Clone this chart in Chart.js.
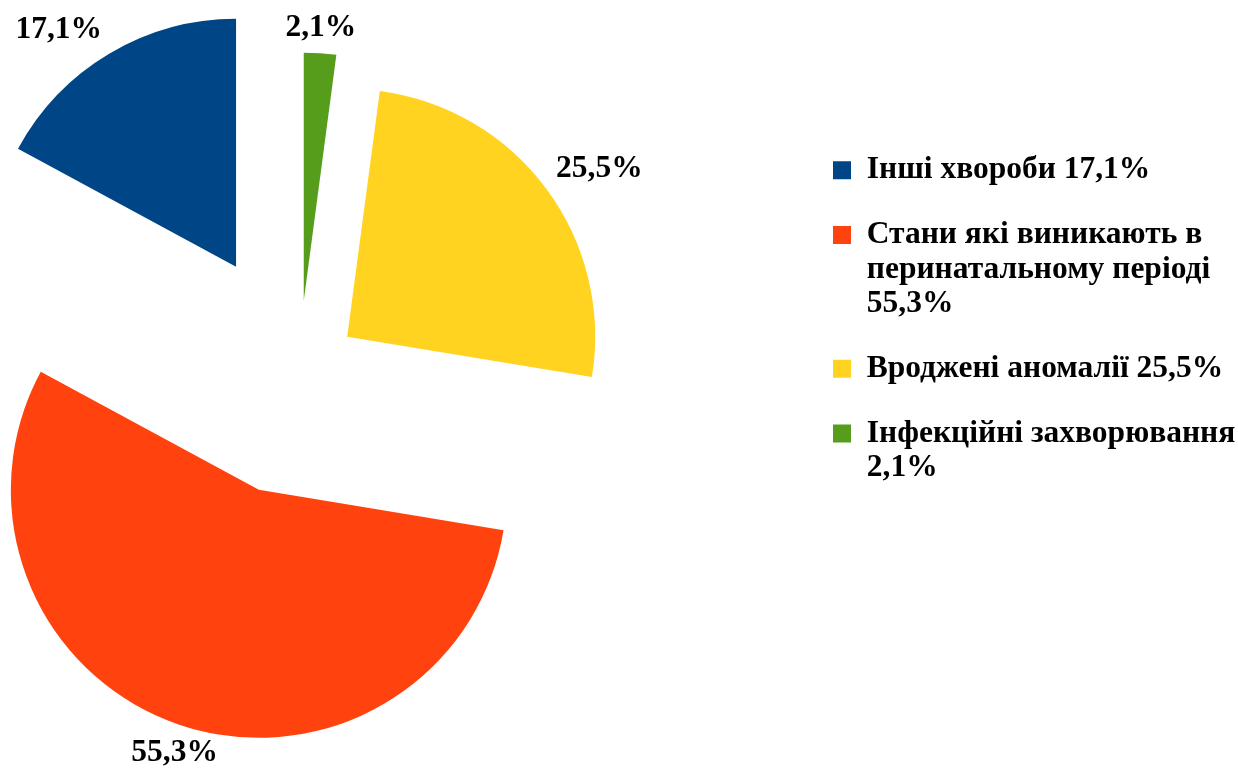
<!DOCTYPE html>
<html><head><meta charset="utf-8">
<script src="https://cdn.jsdelivr.net/npm/chart.js@4.4.1/dist/chart.umd.min.js"></script>
<style>html,body{margin:0;padding:0;background:#fff}canvas{display:block}</style>
</head><body>
<canvas id="c" width="1238" height="770"></canvas>
<script>
// Categories in legend order
const categories = ['Інші хвороби', 'Стани які виникають в перинатальному періоді', 'Вроджені аномалії', 'Інфекційні захворювання'];
const shares = [17.1, 55.3, 25.5, 2.1];
const colors = ['#004586', '#ff420e', '#ffd320', '#579d1c'];
// style: how far each slice is pulled out (px)
const explode = [123, 124, 60, 72];

// The original runs counter-clockwise; Chart.js draws clockwise, so reverse the draw order
const drawLabels = categories.slice().reverse();
const drawValues = shares.slice().reverse();
const drawColors = colors.slice().reverse();
const drawExplode = explode.slice().reverse();

const FONT = '"Liberation Serif", "Times New Roman", serif';
const LEGEND_SIZE = 31.5;
const LABEL_SIZE = 31.5;
const fmt = v => v.toFixed(1).replace('.', ',') + '%';

function wrap(ctx, text, maxW) {
  const words = text.split(' ');
  const lines = [];
  let cur = '';
  words.forEach(w => {
    const t = cur ? cur + ' ' + w : w;
    if (cur && ctx.measureText(t).width > maxW) { lines.push(cur); cur = w; }
    else cur = t;
  });
  if (cur) lines.push(cur);
  return lines;
}

const explodePlugin = {
  id: 'explode',
  afterDatasetsUpdate(chart) {
    const meta = chart.getDatasetMeta(0);
    const area = chart.chartArea;
    meta.data.forEach((arc, i) => {
      const mid = (arc.startAngle + arc.endAngle) / 2;
      const cx = area.left + arc.outerRadius;
      const cy = (area.top + area.bottom) / 2;
      arc.x = cx + Math.cos(mid) * drawExplode[i];
      arc.y = cy + Math.sin(mid) * drawExplode[i];
    });
  }
};

const labelPlugin = {
  id: 'sliceLabels',
  afterDatasetsDraw(chart) {
    const meta = chart.getDatasetMeta(0);
    const ctx = chart.ctx;
    ctx.save();
    ctx.font = 'bold ' + LABEL_SIZE + 'px ' + FONT;
    ctx.fillStyle = '#000';
    meta.data.forEach((arc, i) => {
      const mid = (arc.startAngle + arc.endAngle) / 2;
      const r = arc.outerRadius + 12;
      const px = arc.x + Math.cos(mid) * r, py = arc.y + Math.sin(mid) * r;
      let theta = mid + Math.PI / 2;
      theta = ((theta % (2 * Math.PI)) + 2 * Math.PI) % (2 * Math.PI);
      const sector = Math.round(theta / (Math.PI / 4)) % 8;
      const txt = fmt(chart.data.datasets[0].data[i]);
      let align = 'center', x = px;
      if (sector >= 1 && sector <= 3) { align = 'left'; x = px; }
      else if (sector >= 5 && sector <= 7) { align = 'right'; x = px - 1; }
      const cap = 21;
      let y;
      if (sector === 0 || sector === 1 || sector === 7) y = py - 5;
      else if (sector >= 3 && sector <= 5) y = py + 4 + cap;
      else y = py + cap / 2;
      ctx.textAlign = align;
      ctx.textBaseline = 'alphabetic';
      ctx.fillText(txt, x, y);
    });
    ctx.restore();
  }
};

new Chart(document.getElementById('c'), {
  type: 'pie',
  data: {
    labels: drawLabels,
    datasets: [{
      data: drawValues,
      backgroundColor: drawColors,
      borderWidth: 0
    }]
  },
  options: {
    responsive: false,
    animation: false,
    events: [],
    layout: { padding: { left: 51, top: 124.5, bottom: 149.5, right: 0 } },
    plugins: {
      tooltip: { enabled: false },
      legend: {
        position: 'right',
        align: 'start',
        reverse: true,
        maxWidth: 435,
        labels: {
          boxWidth: 18,
          boxHeight: 18,
          padding: 30,
          color: '#000',
          font: { family: FONT, size: LEGEND_SIZE, weight: 'bold', lineHeight: 1.1 },
          generateLabels(chart) {
            const ds = chart.data.datasets[0];
            const ctx = chart.ctx;
            ctx.save();
            ctx.font = 'bold ' + LEGEND_SIZE + 'px ' + FONT;
            const items = chart.data.labels.map((lab, i) => ({
              text: wrap(ctx, lab + ' ' + fmt(ds.data[i]), 385),
              fillStyle: ds.backgroundColor[i],
              strokeStyle: ds.backgroundColor[i],
              lineWidth: 0,
              hidden: false,
              index: i
            }));
            ctx.restore();
            return items;
          }
        }
      }
    }
  },
  plugins: [explodePlugin, labelPlugin]
});
</script>
</body></html>
